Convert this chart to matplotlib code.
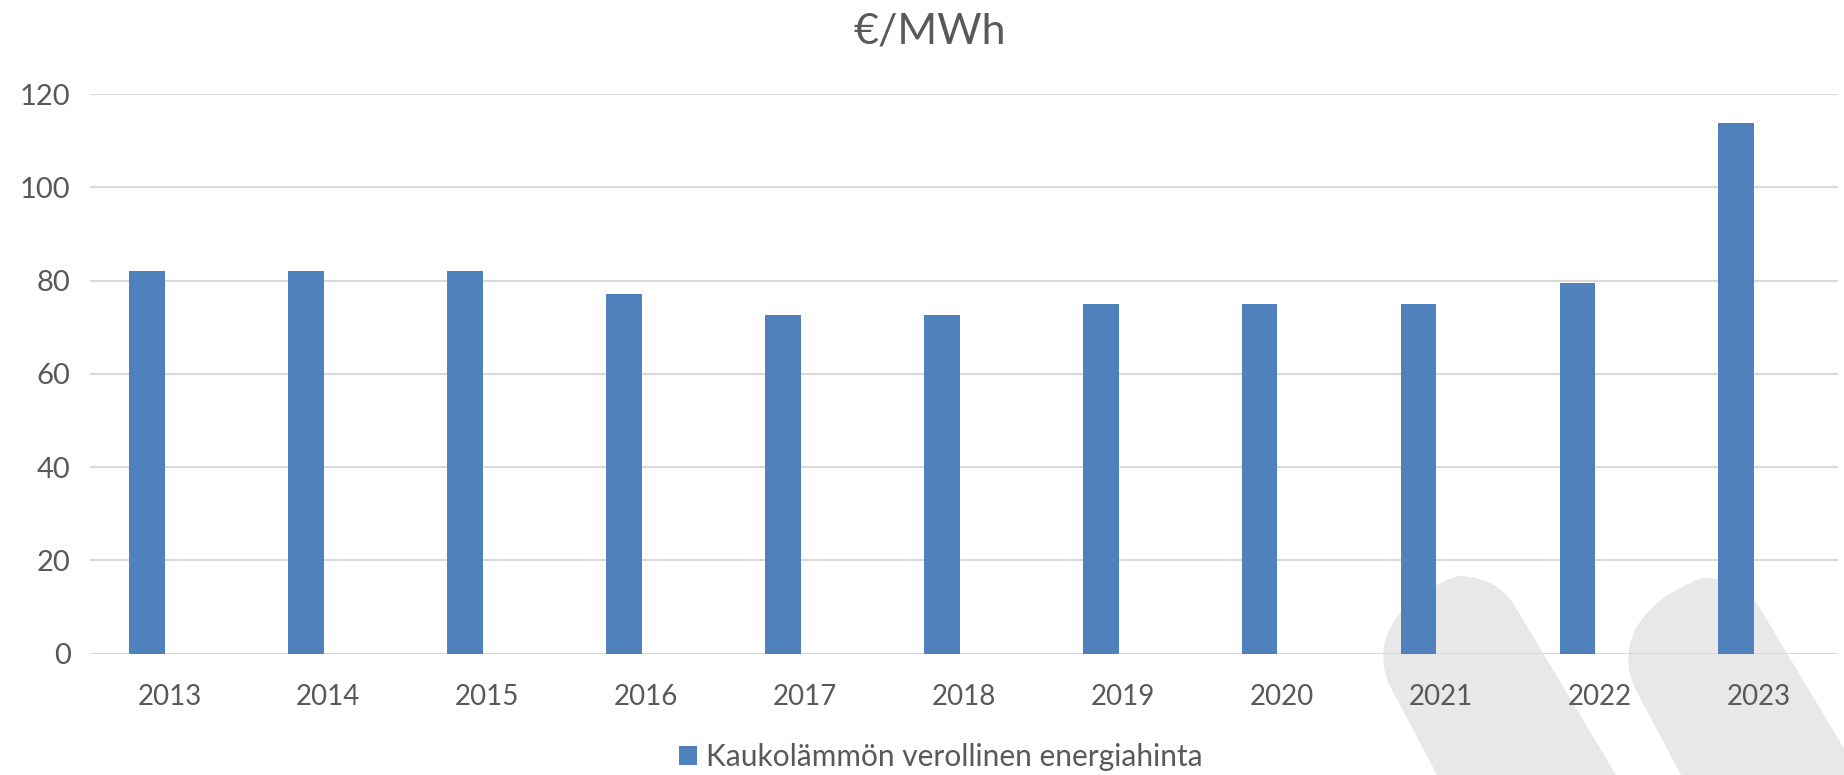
import matplotlib
matplotlib.use("Agg")
import matplotlib.pyplot as plt
from matplotlib.path import Path
from matplotlib.patches import PathPatch
import numpy as np

years = ["2013", "2014", "2015", "2016", "2017", "2018", "2019", "2020", "2021", "2022", "2023"]
prices = [82.1, 82.1, 82.1, 77.1, 72.6, 72.6, 75.0, 75.0, 75.0, 79.6, 113.9]
series_name = "Kaukolämmön verollinen energiahinta"
title = "€/MWh"
yticks = [0, 20, 40, 60, 80, 100, 120]

plt.rcParams['font.family'] = ['Lato', 'DejaVu Sans']
TXT = '#595959'
BAR = '#4f81bd'
GRID = '#d9d9d9'
W, H = 1844, 775

fig = plt.figure(figsize=(W / 100, H / 100), dpi=100)
fig.patch.set_facecolor('white')

# watermark shapes (figure pixel coords -> fraction)
def shape(dx, dy):
    pts = [
        (1445, 790), (1392, 690),
        (1376, 662), (1374, 608), (1457, 576),
        (1490, 576), (1505, 592), (1513, 603),
        (1625, 790), (1445, 790),
    ]
    codes = [Path.MOVETO, Path.LINETO,
             Path.CURVE4, Path.CURVE4, Path.CURVE4,
             Path.CURVE4, Path.CURVE4, Path.CURVE4,
             Path.LINETO, Path.CLOSEPOLY]
    verts = [((x + dx) / W, 1 - (y + dy) / H) for x, y in pts]
    return Path(verts, codes)

for dx, dy in [(0, 0), (245, 2)]:
    p = PathPatch(shape(dx, dy), facecolor='#e8e8e8', edgecolor='none',
                  transform=fig.transFigure, zorder=-5)
    fig.add_artist(p)

ax = fig.add_axes([90 / W, 1 - 653.7 / H, (1838 - 90) / W, (653.7 - 94.2) / H])
ax.set_facecolor('none')
ax.set_zorder(1)

x = np.arange(len(years))
ax.bar(x - 0.14, prices, width=0.225, color=BAR, zorder=3, label=series_name)

ax.set_xlim(-0.5, len(years) - 0.5)
ax.set_ylim(0, 120)
ax.set_yticks(yticks)
ax.set_xticks(x)
ax.set_xticklabels(years)
ax.yaxis.grid(True, color=GRID, linewidth=1.5, zorder=0)
ax.set_axisbelow(True)
for s in ax.spines.values():
    s.set_visible(False)
ax.tick_params(axis='both', length=0, labelsize=20, colors=TXT)
ax.tick_params(axis='y', labelsize=21, pad=14)
ax.tick_params(axis='x', pad=22)

fig.text(929.5 / W, 1 - 43 / H, title, ha='center', va='baseline',
         fontsize=31, color=TXT)

leg = fig.legend(loc='center', bbox_to_anchor=(940.5 / W, 1 - 757 / H),
                 frameon=False, fontsize=21.5, handlelength=0.6, handleheight=0.6,
                 handletextpad=0.3, borderpad=0, borderaxespad=0)
for t in leg.get_texts():
    t.set_color(TXT)

fig.savefig('out.png', dpi=100, facecolor='white')
